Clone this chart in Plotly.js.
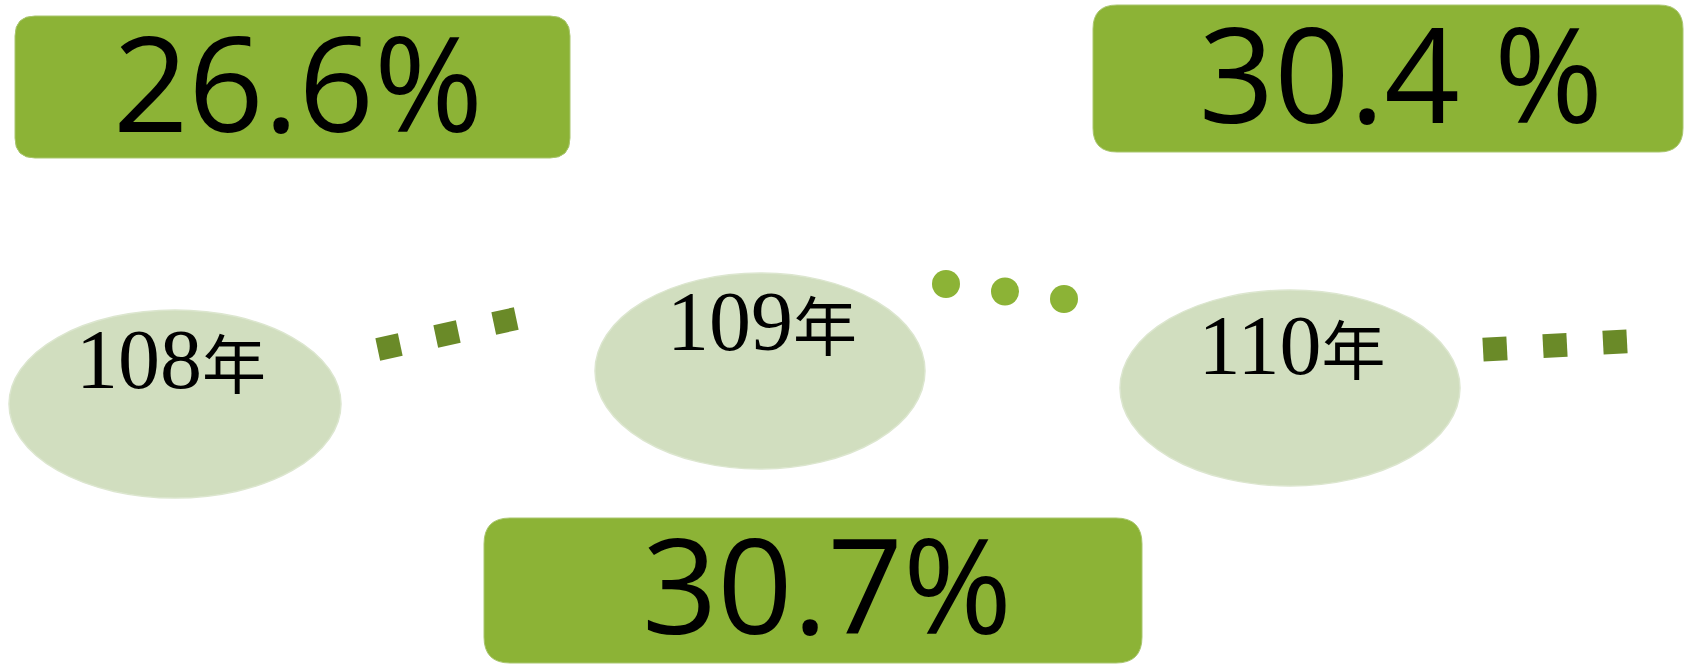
<!DOCTYPE html>
<html>
<head>
<meta charset="utf-8">
<script src="https://cdn.plot.ly/plotly-3.0.1.min.js"></script>
<style>
  html, body { margin: 0; padding: 0; background: #ffffff; }
  #chart { width: 1686px; height: 664px; }
</style>
</head>
<body>
<div id="chart"></div>
<script>
// ---- data ----
const years = ['108', '109', '110'];
const yearSuffix = '年';
const rates = [26.6, 30.7, 30.4];
const rateLabels = ['26.6%', '30.7%', '30.4 %'];

// ---- layout / positions (pixels, 1 unit = 1 px) ----
const W = 1686, H = 664;
const ellipses = [
  {cx: 175, cy: 404, rx: 166, ry: 94},
  {cx: 760, cy: 371, rx: 165, ry: 98},
  {cx: 1290, cy: 388, rx: 170, ry: 98}
];
const yearTextPos = [[171, 367], [762, 329], [1292, 353]];
const boxes = [
  {x0: 15, x1: 570, y0: 16, y1: 158, r: 20},
  {x0: 484, x1: 1142, y0: 518, y1: 663, r: 26},
  {x0: 1093, x1: 1683, y0: 5, y1: 152, r: 24}
];
const rateTextPos = [[298, 99], [827, 601], [1401, 90]];
const connectors = [
  {x0: 389, y0: 347, dx: 58, dy: -13, n: 3, symbol: 'square', size: 23, angle: -12, color: '#6A8A28'},
  {x0: 946, y0: 284, dx: 59, dy: 7.5, n: 3, symbol: 'circle', size: 28, angle: 0, color: '#8CB336'},
  {x0: 1495, y0: 349, dx: 60, dy: -3.5, n: 3, symbol: 'square', size: 24, angle: -3, color: '#6A8A28'}
];

const ELLIPSE_COLOR = '#D1DEBF';
const BOX_COLOR = '#8CB336';

function roundRect(b) {
  const r = b.r;
  return 'M' + (b.x0 + r) + ',' + b.y0 +
    ' L' + (b.x1 - r) + ',' + b.y0 +
    ' Q' + b.x1 + ',' + b.y0 + ' ' + b.x1 + ',' + (b.y0 + r) +
    ' L' + b.x1 + ',' + (b.y1 - r) +
    ' Q' + b.x1 + ',' + b.y1 + ' ' + (b.x1 - r) + ',' + b.y1 +
    ' L' + (b.x0 + r) + ',' + b.y1 +
    ' Q' + b.x0 + ',' + b.y1 + ' ' + b.x0 + ',' + (b.y1 - r) +
    ' L' + b.x0 + ',' + (b.y0 + r) +
    ' Q' + b.x0 + ',' + b.y0 + ' ' + (b.x0 + r) + ',' + b.y0 + ' Z';
}

const shapes = [];
years.forEach((y, i) => {
  const e = ellipses[i];
  shapes.push({
    type: 'circle', xref: 'x', yref: 'y', layer: 'below',
    x0: e.cx - e.rx, x1: e.cx + e.rx, y0: e.cy - e.ry, y1: e.cy + e.ry,
    fillcolor: ELLIPSE_COLOR, line: {color: '#DCE6CF', width: 1.5}
  });
});
rates.forEach((v, i) => {
  shapes.push({
    type: 'path', xref: 'x', yref: 'y', layer: 'below',
    path: roundRect(boxes[i]),
    fillcolor: BOX_COLOR, line: {color: '#A9C66E', width: 1}
  });
});

const traces = [];
connectors.forEach(c => {
  const xs = [], ys = [];
  for (let k = 0; k < c.n; k++) { xs.push(c.x0 + k * c.dx); ys.push(c.y0 + k * c.dy); }
  traces.push({
    type: 'scatter', mode: 'markers', x: xs, y: ys, hoverinfo: 'skip',
    marker: {symbol: c.symbol, size: c.size, angle: c.angle, color: c.color, line: {width: 0}}
  });
});

traces.push({
  type: 'scatter', mode: 'text',
  x: yearTextPos.map(p => p[0]), y: yearTextPos.map(p => p[1]),
  text: years.map(y => y + '<span style="font-size:64px">' + yearSuffix + '</span>'),
  textposition: 'middle center', hoverinfo: 'skip',
  textfont: {family: '"Liberation Serif", "Noto Sans CJK TC", serif', size: 84, color: '#000000'}
});
traces.push({
  type: 'scatter', mode: 'text',
  x: rateTextPos.map(p => p[0]), y: rateTextPos.map(p => p[1]),
  text: rateLabels, customdata: rates, textposition: 'middle center', hoverinfo: 'skip',
  textfont: {family: '"Open Sans", sans-serif', size: 132, color: '#000000'}
});

const layout = {
  width: W, height: H,
  margin: {l: 0, r: 0, t: 0, b: 0, pad: 0},
  paper_bgcolor: '#ffffff', plot_bgcolor: '#ffffff',
  showlegend: false,
  xaxis: {range: [0, W], visible: false, fixedrange: true},
  yaxis: {range: [H, 0], visible: false, fixedrange: true},
  shapes: shapes
};

Plotly.newPlot('chart', traces, layout, {displayModeBar: false, staticPlot: true});
</script>
</body>
</html>
